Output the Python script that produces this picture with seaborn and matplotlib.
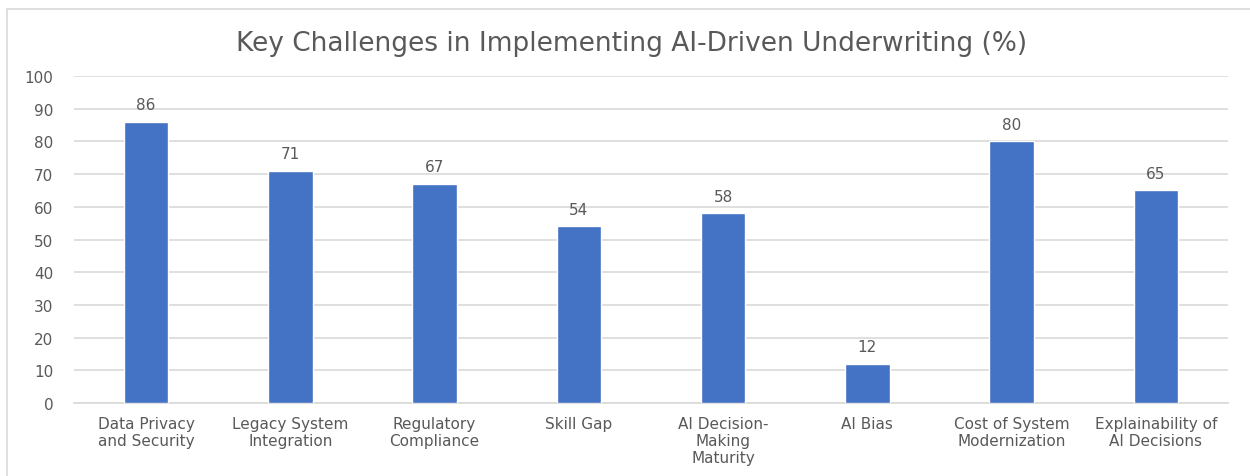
import matplotlib
matplotlib.use("Agg")
import matplotlib.pyplot as plt
import seaborn as sns
import pandas as pd
from matplotlib.lines import Line2D

categories = [
    "Data Privacy\nand Security",
    "Legacy System\nIntegration",
    "Regulatory\nCompliance",
    "Skill Gap",
    "AI Decision-\nMaking\nMaturity",
    "AI Bias",
    "Cost of System\nModernization",
    "Explainability of\nAI Decisions",
]
values = [86, 71, 67, 54, 58, 12, 80, 65]
yticks = [0, 10, 20, 30, 40, 50, 60, 70, 80, 90, 100]
title = "Key Challenges in Implementing AI-Driven Underwriting (%)"

sns.set_theme(style="white")
plt.rcParams["font.family"] = ["DejaVu Sans"]

text_color = "#595959"
bar_color = "#4472C4"
grid_color = "#D9D9D9"

df = pd.DataFrame({"category": categories, "value": values})

fig = plt.figure(figsize=(12.5, 4.77), dpi=100)
ax = fig.add_axes([0.0592, 0.153, 0.9232, 0.6856])

sns.barplot(data=df, x="category", y="value", color=bar_color, width=0.31,
            saturation=1, ax=ax, zorder=3)

ax.set_ylim(0, 100)
ax.set_yticks(yticks)
ax.set_xlim(-0.5, len(categories) - 0.5)
ax.yaxis.grid(True, color=grid_color, linewidth=1.2, zorder=0)
ax.xaxis.grid(False)
for s in ["top", "right", "left"]:
    ax.spines[s].set_visible(False)
ax.spines["bottom"].set_color(grid_color)
ax.spines["bottom"].set_linewidth(1.2)
ax.tick_params(axis="both", length=0, colors=text_color, labelsize=11)
ax.tick_params(axis="x", pad=9)
ax.tick_params(axis="y", pad=15)
ax.set_xlabel("")
ax.set_ylabel("")
for lbl in ax.get_xticklabels():
    lbl.set_linespacing(1.2)

for c in ax.containers:
    ax.bar_label(c, labels=[str(v) for v in values], padding=7,
                 color=text_color, fontsize=11)

fig.text(0.505, 0.908, title, ha="center", va="center", color=text_color,
         fontsize=19)

# chart frame (left and top edges visible)
fig.add_artist(Line2D([7 / 1250, 7 / 1250], [0, 1 - 10 / 477],
                      transform=fig.transFigure, color="#D9D9D9", linewidth=1.2))
fig.add_artist(Line2D([7 / 1250, 1], [1 - 10 / 477, 1 - 10 / 477],
                      transform=fig.transFigure, color="#D9D9D9", linewidth=1.2))

fig.savefig("out.png", dpi=100, facecolor="white")
